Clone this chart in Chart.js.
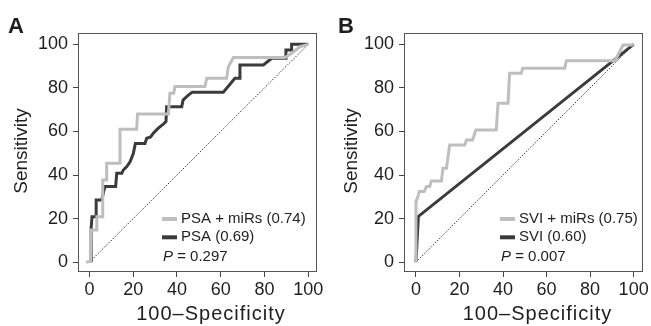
<!DOCTYPE html>
<html lang="en">
<head>
  <meta charset="UTF-8" />
  <title>ROC curves</title>
  <script src="https://cdn.jsdelivr.net/npm/chart.js"></script>
  <style>
    body { margin: 0; background: #fff; }
    .panel { position: absolute; top: 0; }
  </style>
</head>
<body>
<canvas id="panelA" class="panel" width="325" height="326" style="left:0"></canvas>
<canvas id="panelB" class="panel" width="326" height="326" style="left:325px"></canvas>

<script>
const tickValues = [0, 20, 40, 60, 80, 100];
const diagX = [0, 100];
const diagY = [0, 100];

// Panel A
const psaMirsX = [-1.5, 0.5, 0.8, 3.4, 3.4, 6.1, 6.1, 7.9, 7.9, 14, 14, 21.6, 22, 36.1, 36.8, 38.5, 39.1, 52.8, 53.6, 62.7, 63.5, 65.8, 89.4, 92.4, 96.2, 100];
const psaMirsY = [0, 0.5, 14.8, 14.8, 20.9, 20.9, 37.7, 37.7, 45.4, 45.4, 61, 61, 68, 68, 77.5, 77.5, 80.6, 80.6, 84.4, 84.4, 89.7, 93.9, 93.9, 95.9, 98.9, 100];
const psaX = [0.8, 0.8, 1.2, 3.1, 3.1, 5.7, 6.5, 7.2, 12, 12.5, 14.8, 15.5, 17.1, 18.6, 20.1, 21, 25.4, 26.2, 28, 29.2, 31.5, 33.8, 35, 35.3, 42.2, 42.8, 45.2, 47, 61.2, 66.5, 68.5, 68.8, 79.5, 83.3, 89.4, 89.8, 92.4, 92.4, 100];
const psaY = [0, 15.6, 20.9, 20.9, 28.6, 28.6, 32.4, 34.7, 34.7, 40.8, 40.8, 42.3, 43.9, 46.1, 50, 54.5, 54.5, 56.9, 57.5, 59.2, 61.5, 63.4, 64.5, 71.4, 71.4, 74.4, 76.7, 78, 78, 84.4, 84.4, 90.5, 90.5, 93.6, 93.6, 97.4, 97.4, 100, 100];

// Panel B
const sviMirsX = [0, 0, 0.9, 1.5, 3.8, 4.8, 6.3, 7.1, 11.7, 12.4, 14, 15.5, 22.4, 23.2, 26, 27, 27.5, 36.9, 37.7, 42.3, 43, 48.4, 49, 68.3, 69.1, 91.3, 92.8, 94, 95.1, 100];
const sviMirsY = [0, 27.8, 30, 32.4, 32.4, 34.7, 34.7, 37.3, 37.3, 43.1, 43.1, 53.8, 53.8, 56.1, 56.1, 59.2, 60.7, 60.7, 72.9, 72.9, 86.7, 86.7, 89, 89, 92.5, 92.5, 95.1, 97.4, 99.7, 99.7];
const sviX = [0, 1.1, 100];
const sviY = [0, 21, 100];

const lightGray = '#bebebe';
const darkGray = '#3b3b3b';
const textColor = '#1e1e1e';
const fontFamily = '"Liberation Sans", Arial, Helvetica, sans-serif';

const toPoints = (xs, ys) => xs.map((x, i) => ({ x: x, y: ys[i] }));

const panelText = {
  id: 'panelText',
  beforeDatasetsDraw(chart, args, opts) {
    const { ctx, chartArea: { left, top, width, height } } = chart;
    ctx.save();
    ctx.strokeStyle = '#555';
    ctx.lineWidth = 1;
    ctx.strokeRect(left + 0.5, top + 0.5, width - 1, height - 1);
    ctx.restore();
  },
  afterDraw(chart, args, opts) {
    const ctx = chart.ctx;
    ctx.save();
    ctx.fillStyle = textColor;

    // panel letter
    ctx.font = `bold 22px ${fontFamily}`;
    ctx.textAlign = 'left';
    ctx.textBaseline = 'alphabetic';
    ctx.fillText(opts.letter, opts.letterX, 33);

    // x title
    ctx.font = `20px ${fontFamily}`;
    ctx.textAlign = 'center';
    ctx.letterSpacing = '1px';
    ctx.fillText('100\u2013Specificity', opts.xTitleX, 320);
    ctx.letterSpacing = '0px';

    // y title
    ctx.save();
    ctx.translate(opts.yTitleX, 151);
    ctx.rotate(-Math.PI / 2);
    ctx.font = `19px ${fontFamily}`;
    ctx.fillText('Sensitivity', 0, 0);
    ctx.restore();

    // legend
    const rows = [219, 237.3];
    ctx.font = `15px ${fontFamily}`;
    ctx.textAlign = 'left';
    ctx.textBaseline = 'middle';
    [0, 1].forEach(i => {
      const ds = chart.data.datasets[i];
      ctx.strokeStyle = ds.borderColor;
      ctx.lineWidth = 4;
      ctx.beginPath();
      ctx.moveTo(opts.legendX, rows[i]);
      ctx.lineTo(opts.legendX + 15, rows[i]);
      ctx.stroke();
      ctx.fillText(ds.label, opts.legendX + 19, rows[i]);
    });

    ctx.font = `italic 15px ${fontFamily}`;
    ctx.fillText('P', opts.legendX + 1, 256.7);
    const pw = ctx.measureText('P').width;
    ctx.font = `15px ${fontFamily}`;
    ctx.fillText(' = ' + opts.pValue, opts.legendX + 1 + pw, 256.7);
    ctx.restore();
  }
};

function makePanel(canvasId, p) {
  new Chart(document.getElementById(canvasId), {
    type: 'scatter',
    data: {
      datasets: [
        {
          label: p.labels[0],
          data: toPoints(p.lightX, p.lightY),
          borderColor: lightGray,
          borderWidth: 3,
          showLine: true,
          pointRadius: 0,
          tension: 0
        },
        {
          label: p.labels[1],
          data: toPoints(p.darkX, p.darkY),
          borderColor: darkGray,
          borderWidth: 3,
          showLine: true,
          pointRadius: 0,
          tension: 0
        },
        {
          label: 'chance',
          data: toPoints(diagX, diagY),
          borderColor: '#333',
          borderWidth: 1,
          borderDash: [1.5, 1.5],
          showLine: true,
          pointRadius: 0
        }
      ]
    },
    options: {
      responsive: false,
      animation: false,
      layout: { padding: { top: 33, right: 8, left: 0, bottom: 0 } },
      plugins: {
        legend: { display: false },
        tooltip: { enabled: false },
        panelText: p.text
      },
      scales: {
        x: {
          type: 'linear',
          min: p.xMin,
          max: p.xMax,
          afterBuildTicks: s => { s.ticks = tickValues.map(v => ({ value: v })); },
          afterFit: s => { s.height = 54; s.paddingLeft = 0; s.paddingRight = 0; },
          ticks: { color: textColor, font: { family: fontFamily, size: 18 }, padding: 2, maxRotation: 0, autoSkip: false },
          grid: { drawOnChartArea: false, tickLength: 5, color: '#444' },
          border: { display: false }
        },
        y: {
          type: 'linear',
          min: -4.5,
          max: 105.2,
          afterBuildTicks: s => { s.ticks = tickValues.map(v => ({ value: v })); },
          afterFit: s => { s.width = p.yWidth; s.paddingTop = 0; s.paddingBottom = 0; },
          ticks: { color: textColor, font: { family: fontFamily, size: 18 }, padding: 5, autoSkip: false },
          grid: { drawOnChartArea: false, tickLength: 5, color: '#444' },
          border: { display: false }
        }
      }
    },
    plugins: [panelText]
  });
}

makePanel('panelA', {
  labels: ['PSA + miRs (0.74)', 'PSA (0.69)'],
  lightX: psaMirsX, lightY: psaMirsY,
  darkX: psaX, darkY: psaY,
  xMin: -5.2, xMax: 104,
  yWidth: 78,
  text: { letter: 'A', letterX: 8, xTitleX: 211, yTitleX: 26.5, legendX: 162, pValue: '0.297' }
});

makePanel('panelB', {
  labels: ['SVI + miRs (0.75)', 'SVI (0.60)'],
  lightX: sviMirsX, lightY: sviMirsY,
  darkX: sviX, darkY: sviY,
  xMin: -5.5, xMax: 104.3,
  yWidth: 79,
  text: { letter: 'B', letterX: 13, xTitleX: 212.5, yTitleX: 32.3, legendX: 175, pValue: '0.007' }
});
</script>
</body>
</html>
